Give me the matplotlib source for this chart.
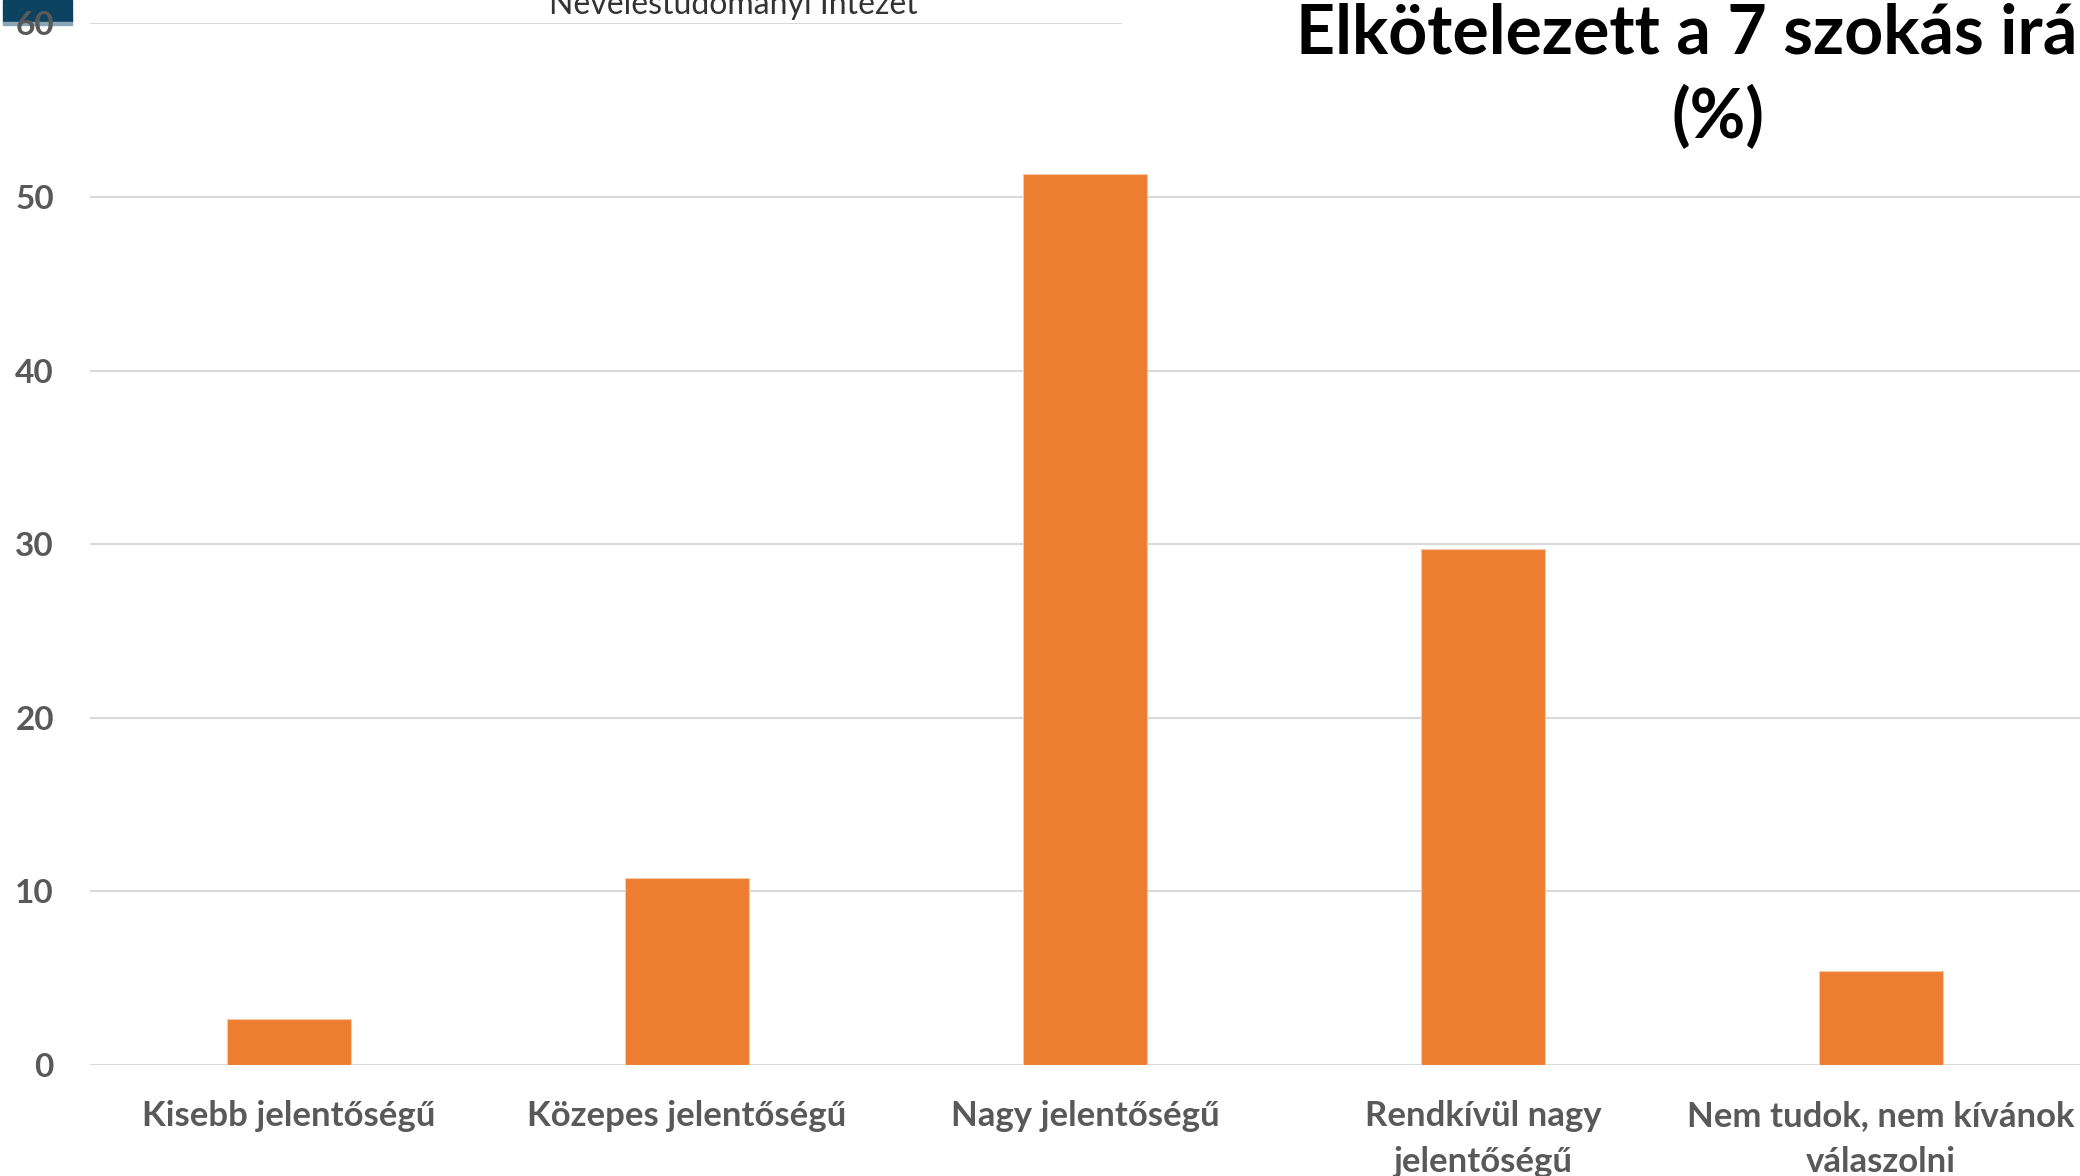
import matplotlib.pyplot as plt
from matplotlib.patches import Rectangle

plt.rcParams['font.family'] = ['Lato', 'DejaVu Sans']

categories = [
    "Kisebb jelentőségű",
    "Közepes jelentőségű",
    "Nagy jelentőségű",
    "Rendkívül nagy\njelentőségű",
    "Nem tudok, nem kívánok\nválaszolni",
]
values = [2.67, 10.8, 51.3, 29.7, 5.4]
yticks = [0, 10, 20, 30, 40, 50, 60]

title_line1 = "Elkötelezett a 7 szokás iránt"
title_line2 = "(%)"
header = "Neveléstudományi Intézet"

W, H = 2080, 1176
dpi = 100

fig = plt.figure(figsize=(W / dpi, H / dpi), dpi=dpi)
ax = fig.add_axes([90 / W, (H - 1065) / H, 1 - 90 / W, (1065 - 23.4) / H])

x = list(range(len(categories)))
ax.bar(x, values, width=0.314, color="#ED7D31", edgecolor="#F8C9A8", lw=0.8, zorder=3)

ax.set_xlim(-0.5, len(categories) - 0.5)
ax.set_ylim(0, 60)
ax.set_yticks(yticks)
ax.set_xticks(x)
ax.set_xticklabels(categories, linespacing=1.55)

ax.grid(axis="y", color="#d9d9d9", lw=1.5, zorder=1)
for s in ["top", "right", "left", "bottom"]:
    ax.spines[s].set_visible(False)
ax.axhline(0, color="#d9d9d9", lw=1.8, zorder=2)

ax.tick_params(axis="y", length=0, labelsize=24, labelcolor="#595959", pad=26)
ax.tick_params(axis="x", length=0, labelsize=25, labelcolor="#595959", pad=25)
for lbl in ax.get_xticklabels() + ax.get_yticklabels():
    lbl.set_fontweight("bold")

# logo block in the corner
fig.add_artist(Rectangle((3 / W, 1 - 22 / H), 69 / W, 22 / H, transform=fig.transFigure,
                         color="#0d4361", zorder=0))
fig.add_artist(Rectangle((3 / W, 1 - 25 / H), 69 / W, 3 / H, transform=fig.transFigure,
                         color="#8aa5b5", zorder=0))

# white title box covering top gridline
fig.add_artist(Rectangle((1122 / W, 1 - 160 / H), 1, 160 / H, transform=fig.transFigure,
                         color="white", zorder=5))
fig.text(1718 / W, 1 - 53 / H, title_line1, ha="center", va="baseline", fontsize=49,
         fontweight="bold", color="black", zorder=6)
fig.text(1718 / W, 1 - 138 / H, title_line2, ha="center", va="baseline", fontsize=49,
         fontweight="bold", color="black", zorder=6)

fig.text(733 / W, 1 - 14 / H, header, ha="center", va="baseline", fontsize=23,
         color="#333333", zorder=6)

fig.savefig("out.png", dpi=dpi)
plt.close()
